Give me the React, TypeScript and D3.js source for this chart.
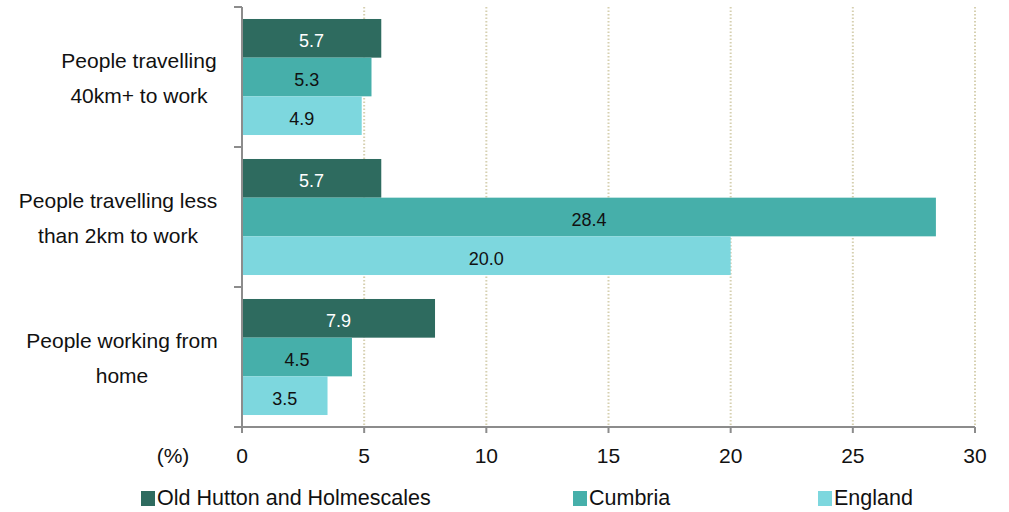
import React from "react";
import * as d3 from "d3";

const categories = [
  ["People travelling", "40km+ to work"],
  ["People travelling less", "than 2km to work"],
  ["People working from", "home"],
];
const seriesNames = ["Old Hutton and Holmescales", "Cumbria", "England"];
const oldHutton = [5.7, 5.7, 7.9];
const cumbria = [5.3, 28.4, 4.5];
const england = [4.9, 20.0, 3.5];
const xTicks = [0, 5, 10, 15, 20, 25, 30];
const colors = ["#2e6b5f", "#46afaa", "#7dd7de"];
const labelColors = ["#ffffff", "#111111", "#111111"];

export default function App() {
  const W = 1009, H = 512;
  const left = 242, right = 975, top = 7, bottom = 427;
  const font = "'Liberation Sans', Arial, sans-serif";
  const x = d3.scaleLinear().domain([0, 30]).range([left, right]);
  const y = d3.scaleBand().domain(categories.map((_, i) => String(i))).range([top, bottom]).paddingInner(0).paddingOuter(0);
  const inner = d3.scaleBand().domain(seriesNames).range([0, y.bandwidth()]).paddingOuter(0.31).paddingInner(0);
  const series = [oldHutton, cumbria, england];
  const legendX = [141, 573, 818];
  const labelCenters = [139, 118, 122];

  return (
    <svg width={W} height={H} style={{ position: "absolute", left: 0, top: 0 }} fontFamily={font}>
      <rect width={W} height={H} fill="#fff" />
      {xTicks.filter((t) => t > 0).map((t) => (
        <line key={"g" + t} x1={x(t)} x2={x(t)} y1={top} y2={bottom} stroke="#d6d0b0" strokeWidth={2} strokeDasharray="1.5,2" />
      ))}
      {categories.map((c, ci) =>
        series.map((s, si) => {
          const y0 = (y(String(ci)) as number) + (inner(seriesNames[si]) as number);
          const h = inner.bandwidth();
          return (
            <g key={ci + "-" + si}>
              <rect x={x(0)} y={y0} width={x(s[ci]) - x(0)} height={h} fill={colors[si]} />
              <text x={(x(0) + x(s[ci])) / 2} y={y0 + h / 2 + 9} textAnchor="middle" fontSize={18} fill={labelColors[si]}>
                {s[ci].toFixed(1)}
              </text>
            </g>
          );
        })
      )}
      {/* y axis */}
      <line x1={left} x2={left} y1={top} y2={bottom} stroke="#8c8c8c" strokeWidth={2} />
      {[0, 1, 2, 3].map((i) => {
        const yy = top + i * y.step();
        return <line key={"yt" + i} x1={left - 8} x2={left} y1={yy} y2={yy} stroke="#8c8c8c" strokeWidth={2} />;
      })}
      {categories.map((c, ci) => {
        const cy = (y(String(ci)) as number) + y.bandwidth() / 2;
        const cx = labelCenters[ci];
        return (
          <text key={"cl" + ci} x={cx} textAnchor="middle" fontSize={21} fill="#111">
            {c.map((line, li) => (
              <tspan key={li} x={cx} y={cy - 9.5 + li * 35}>{line}</tspan>
            ))}
          </text>
        );
      })}
      {/* x axis */}
      <line x1={left} x2={right} y1={bottom} y2={bottom} stroke="#8c8c8c" strokeWidth={2} />
      {xTicks.map((t) => (
        <g key={"xt" + t}>
          <line x1={x(t)} x2={x(t)} y1={bottom} y2={bottom + 6} stroke="#8c8c8c" strokeWidth={2} />
          <text x={x(t)} y={463} textAnchor="middle" fontSize={21} fill="#111">{t}</text>
        </g>
      ))}
      <text x={173} y={463} textAnchor="middle" fontSize={21} fill="#111">(%)</text>
      {/* legend */}
      {seriesNames.map((n, i) => (
        <g key={"lg" + n}>
          <rect x={legendX[i]} y={491} width={14} height={15} fill={colors[i]} />
          <text x={legendX[i] + 16} y={505} fontSize={21.5} fill="#111">{n}</text>
        </g>
      ))}
    </svg>
  );
}
